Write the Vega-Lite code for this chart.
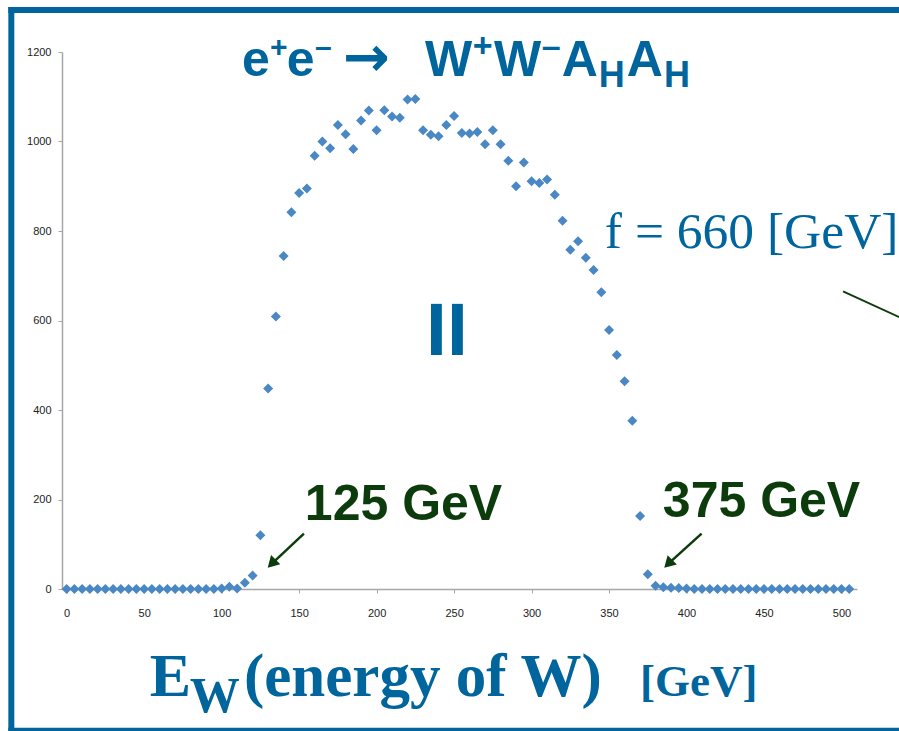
{
  "$schema": "https://vega.github.io/schema/vega-lite/v6.json",
  "width": 795,
  "height": 537,
  "autosize": {"type": "none"},
  "padding": {"left": 62, "top": 52, "right": 42, "bottom": 142},
  "background": "white",
  "config": {
    "view": {"stroke": null},
    "axis": {"grid": false, "domainColor": "#a6a6a6", "domainWidth": 1.5, "tickColor": "#a6a6a6", "tickSize": 4, "labelFont": "Liberation Sans", "labelFontSize": 11, "labelColor": "#222222", "title": null}
  },
  "data": {"values": [
    {"e": 0, "n": 0}, {"e": 5, "n": 0}, {"e": 10, "n": 0}, {"e": 15, "n": 0}, {"e": 20, "n": 0},
    {"e": 25, "n": 0}, {"e": 30, "n": 0}, {"e": 35, "n": 0}, {"e": 40, "n": 0}, {"e": 45, "n": 0},
    {"e": 50, "n": 0}, {"e": 55, "n": 0}, {"e": 60, "n": 0}, {"e": 65, "n": 0}, {"e": 70, "n": 0},
    {"e": 75, "n": 0}, {"e": 80, "n": 0}, {"e": 85, "n": 0}, {"e": 90, "n": 0}, {"e": 95, "n": 0},
    {"e": 100, "n": 1}, {"e": 105, "n": 5}, {"e": 110, "n": 1}, {"e": 115, "n": 14}, {"e": 120, "n": 30},
    {"e": 125, "n": 120}, {"e": 130, "n": 448}, {"e": 135, "n": 609}, {"e": 140, "n": 744}, {"e": 145, "n": 842},
    {"e": 150, "n": 885}, {"e": 155, "n": 895}, {"e": 160, "n": 968}, {"e": 165, "n": 1000}, {"e": 170, "n": 985},
    {"e": 175, "n": 1037}, {"e": 180, "n": 1016}, {"e": 185, "n": 983}, {"e": 190, "n": 1047}, {"e": 195, "n": 1069},
    {"e": 200, "n": 1025}, {"e": 205, "n": 1070}, {"e": 210, "n": 1056}, {"e": 215, "n": 1053}, {"e": 220, "n": 1094},
    {"e": 225, "n": 1095}, {"e": 230, "n": 1025}, {"e": 235, "n": 1015}, {"e": 240, "n": 1012}, {"e": 245, "n": 1037},
    {"e": 250, "n": 1057}, {"e": 255, "n": 1019}, {"e": 260, "n": 1018}, {"e": 265, "n": 1021}, {"e": 270, "n": 994},
    {"e": 275, "n": 1025}, {"e": 280, "n": 994}, {"e": 285, "n": 957}, {"e": 290, "n": 900}, {"e": 295, "n": 953},
    {"e": 300, "n": 911}, {"e": 305, "n": 907}, {"e": 310, "n": 915}, {"e": 315, "n": 881}, {"e": 320, "n": 823},
    {"e": 325, "n": 758}, {"e": 330, "n": 777}, {"e": 335, "n": 740}, {"e": 340, "n": 713}, {"e": 345, "n": 663},
    {"e": 350, "n": 579}, {"e": 355, "n": 523}, {"e": 360, "n": 464}, {"e": 365, "n": 376}, {"e": 370, "n": 163},
    {"e": 375, "n": 33}, {"e": 380, "n": 7}, {"e": 385, "n": 4}, {"e": 390, "n": 3}, {"e": 395, "n": 2},
    {"e": 400, "n": 1}, {"e": 405, "n": 0}, {"e": 410, "n": 0}, {"e": 415, "n": 0}, {"e": 420, "n": 0},
    {"e": 425, "n": 0}, {"e": 430, "n": 0}, {"e": 435, "n": 0}, {"e": 440, "n": 0}, {"e": 445, "n": 0},
    {"e": 450, "n": 0}, {"e": 455, "n": 0}, {"e": 460, "n": 0}, {"e": 465, "n": 0}, {"e": 470, "n": 0},
    {"e": 475, "n": 0}, {"e": 480, "n": 0}, {"e": 485, "n": 0}, {"e": 490, "n": 0}, {"e": 495, "n": 0},
    {"e": 500, "n": 0}, {"e": 505, "n": 0}
  ]},
  "layer": [
    {"data": {"values": [{}]}, "mark": {"type": "rule", "color": "#00659d", "strokeWidth": 6, "strokeCap": "square"},
     "encoding": {"x": {"datum": -35.7}, "x2": {"datum": 539}, "y": {"datum": 1293.9}}},
    {"data": {"values": [{}]}, "mark": {"type": "rule", "color": "#00659d", "strokeWidth": 6, "strokeCap": "square"},
     "encoding": {"x": {"datum": -35.7}, "y": {"datum": 1293.9}, "y2": {"datum": -316.9}}},
    {"data": {"values": [{}]}, "mark": {"type": "rule", "color": "#00659d", "strokeWidth": 6, "strokeCap": "square"},
     "encoding": {"x": {"datum": -35.7}, "x2": {"datum": 539}, "y": {"datum": -316.9}}},
    {
      "mark": {"type": "point", "shape": "diamond", "filled": true, "size": 100, "color": "#4a87c5", "opacity": 1},
      "encoding": {
        "x": {"field": "e", "type": "quantitative", "scale": {"domain": [-3, 510], "nice": false, "zero": false},
              "axis": {"values": [0, 50, 100, 150, 200, 250, 300, 350, 400, 450, 500], "labelPadding": 14, "format": "d"}},
        "y": {"field": "n", "type": "quantitative", "scale": {"domain": [0, 1200], "nice": false},
              "axis": {"values": [0, 200, 400, 600, 800, 1000, 1200], "labelPadding": 7, "format": "d"}}
      }
    },
    {"data": {"values": [{}]}, "mark": {"type": "text", "text": "e", "align": "left", "baseline": "alphabetic", "font": "Liberation Sans", "fontWeight": "bold", "fontSize": 50, "color": "#00659d"},
     "encoding": {"x": {"datum": 113.1}, "y": {"datum": 1145.7}}},
    {"data": {"values": [{}]}, "mark": {"type": "text", "text": "+", "align": "left", "baseline": "alphabetic", "font": "Liberation Sans", "fontWeight": "bold", "fontSize": 30, "color": "#00659d"},
     "encoding": {"x": {"datum": 131.2}, "y": {"datum": 1187.9}}},
    {"data": {"values": [{}]}, "mark": {"type": "text", "text": "e", "align": "left", "baseline": "alphabetic", "font": "Liberation Sans", "fontWeight": "bold", "fontSize": 50, "color": "#00659d"},
     "encoding": {"x": {"datum": 142.1}, "y": {"datum": 1145.7}}},
    {"data": {"values": [{}]}, "mark": {"type": "text", "text": "–", "align": "left", "baseline": "alphabetic", "font": "Liberation Sans", "fontWeight": "bold", "fontSize": 30, "color": "#00659d"},
     "encoding": {"x": {"datum": 160.2}, "y": {"datum": 1187.9}}},
    {"data": {"values": [{}]}, "mark": {"type": "text", "text": "→", "align": "left", "baseline": "alphabetic", "font": "DejaVu Sans", "fontWeight": "bold", "fontSize": 56, "color": "#00659d"},
     "encoding": {"x": {"datum": 178.3}, "y": {"datum": 1145.7}}},
    {"data": {"values": [{}]}, "mark": {"type": "text", "text": "W", "align": "left", "baseline": "alphabetic", "font": "Liberation Sans", "fontWeight": "bold", "fontSize": 50, "color": "#00659d"},
     "encoding": {"x": {"datum": 231.2}, "y": {"datum": 1145.7}}},
    {"data": {"values": [{}]}, "mark": {"type": "text", "text": "+", "align": "left", "baseline": "alphabetic", "font": "Liberation Sans", "fontWeight": "bold", "fontSize": 34, "color": "#00659d"},
     "encoding": {"x": {"datum": 262.1}, "y": {"datum": 1187.9}}},
    {"data": {"values": [{}]}, "mark": {"type": "text", "text": "W", "align": "left", "baseline": "alphabetic", "font": "Liberation Sans", "fontWeight": "bold", "fontSize": 50, "color": "#00659d"},
     "encoding": {"x": {"datum": 275.7}, "y": {"datum": 1145.7}}},
    {"data": {"values": [{}]}, "mark": {"type": "text", "text": "–", "align": "left", "baseline": "alphabetic", "font": "Liberation Sans", "fontWeight": "bold", "fontSize": 34, "color": "#00659d"},
     "encoding": {"x": {"datum": 306.6}, "y": {"datum": 1187.9}}},
    {"data": {"values": [{}]}, "mark": {"type": "text", "text": "A", "align": "left", "baseline": "alphabetic", "font": "Liberation Sans", "fontWeight": "bold", "fontSize": 50, "color": "#00659d"},
     "encoding": {"x": {"datum": 319.5}, "y": {"datum": 1145.7}}},
    {"data": {"values": [{}]}, "mark": {"type": "text", "text": "H", "align": "left", "baseline": "alphabetic", "font": "Liberation Sans", "fontWeight": "bold", "fontSize": 36, "color": "#00659d"},
     "encoding": {"x": {"datum": 343.4}, "y": {"datum": 1121.2}}},
    {"data": {"values": [{}]}, "mark": {"type": "text", "text": "A", "align": "left", "baseline": "alphabetic", "font": "Liberation Sans", "fontWeight": "bold", "fontSize": 50, "color": "#00659d"},
     "encoding": {"x": {"datum": 361.5}, "y": {"datum": 1145.7}}},
    {"data": {"values": [{}]}, "mark": {"type": "text", "text": "H", "align": "left", "baseline": "alphabetic", "font": "Liberation Sans", "fontWeight": "bold", "fontSize": 36, "color": "#00659d"},
     "encoding": {"x": {"datum": 385.4}, "y": {"datum": 1121.2}}},
    {"data": {"values": [{}]}, "mark": {"type": "text", "text": "f = 660 [GeV]", "align": "left", "baseline": "alphabetic", "font": "Liberation Serif", "fontSize": 51.5, "color": "#00659d"},
     "encoding": {"x": {"datum": 347.3}, "y": {"datum": 761.3}}},
    {"data": {"values": [{}]}, "mark": {"type": "rule", "color": "#0c3c0c", "strokeWidth": 2},
     "encoding": {"x": {"datum": 501}, "y": {"datum": 665}, "x2": {"datum": 541}, "y2": {"datum": 601.6}}},
    {"data": {"values": [{}]}, "mark": {"type": "text", "text": "II", "align": "center", "baseline": "alphabetic", "font": "Liberation Sans", "fontWeight": "bold", "fontSize": 75, "color": "#00659d"},
     "encoding": {"x": {"datum": 245.4}, "y": {"datum": 522.2}}},
    {"data": {"values": [{}]}, "mark": {"type": "text", "text": "125 GeV", "align": "left", "baseline": "alphabetic", "font": "Liberation Sans", "fontWeight": "bold", "fontSize": 50, "color": "#0c3c0c"},
     "encoding": {"x": {"datum": 153.7}, "y": {"datum": 153.5}}},
    {"data": {"values": [{}]}, "mark": {"type": "text", "text": "375 GeV", "align": "left", "baseline": "alphabetic", "font": "Liberation Sans", "fontWeight": "bold", "fontSize": 50, "color": "#0c3c0c"},
     "encoding": {"x": {"datum": 384.7}, "y": {"datum": 160.2}}},
    {"data": {"values": [{}]}, "mark": {"type": "rule", "color": "#0c3c0c", "strokeWidth": 2.5},
     "encoding": {"x": {"datum": 153.1}, "y": {"datum": 123.8}, "x2": {"datum": 133.5}, "y2": {"datum": 60}}},
    {"data": {"values": [{}]}, "mark": {"type": "point", "shape": "triangle-up", "filled": true, "size": 170, "angle": 225, "color": "#0c3c0c", "opacity": 1},
     "encoding": {"x": {"datum": 132.3}, "y": {"datum": 56.5}}},
    {"data": {"values": [{}]}, "mark": {"type": "rule", "color": "#0c3c0c", "strokeWidth": 2.5},
     "encoding": {"x": {"datum": 409.7}, "y": {"datum": 123.8}, "x2": {"datum": 389.4}, "y2": {"datum": 60}}},
    {"data": {"values": [{}]}, "mark": {"type": "point", "shape": "triangle-up", "filled": true, "size": 170, "angle": 225, "color": "#0c3c0c", "opacity": 1},
     "encoding": {"x": {"datum": 388.2}, "y": {"datum": 56.2}}},
    {"data": {"values": [{}]}, "mark": {"type": "text", "text": "E", "align": "left", "baseline": "alphabetic", "font": "Liberation Serif", "fontWeight": "bold", "fontSize": 62, "color": "#00659d"},
     "encoding": {"x": {"datum": 53.7}, "y": {"datum": -239.8}}},
    {"data": {"values": [{}]}, "mark": {"type": "text", "text": "W", "align": "left", "baseline": "alphabetic", "font": "Liberation Serif", "fontWeight": "bold", "fontSize": 50, "color": "#00659d"},
     "encoding": {"x": {"datum": 79.5}, "y": {"datum": -275.5}}},
    {"data": {"values": [{}]}, "mark": {"type": "text", "text": "(energy of W)", "align": "left", "baseline": "alphabetic", "font": "Liberation Serif", "fontWeight": "bold", "fontSize": 61, "color": "#00659d"},
     "encoding": {"x": {"datum": 114.4}, "y": {"datum": -239.8}}},
    {"data": {"values": [{}]}, "mark": {"type": "text", "text": "[GeV]", "align": "left", "baseline": "alphabetic", "font": "Liberation Serif", "fontWeight": "bold", "fontSize": 45, "color": "#00659d"},
     "encoding": {"x": {"datum": 370.0}, "y": {"datum": -239.8}}}
  ]
}
